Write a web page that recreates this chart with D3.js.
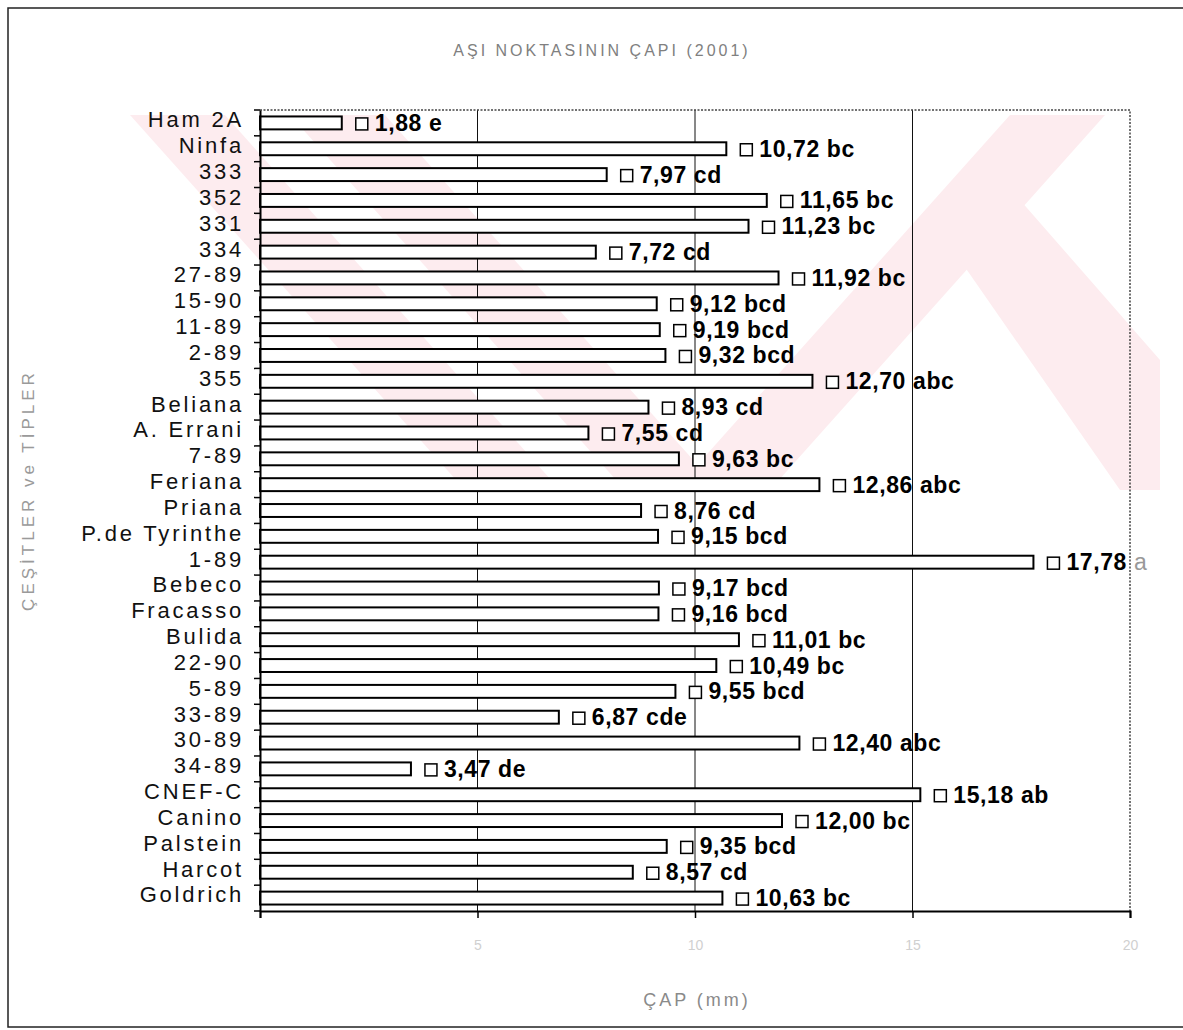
<!DOCTYPE html>
<html>
<head>
<meta charset="utf-8">
<script src="https://cdn.jsdelivr.net/npm/d3@7"></script>
<style>
  body { margin: 0; background: #fff; }
  svg { display: block; }
</style>
</head>
<body>
<div id="chart"></div>
<script>
// Data
const cultivars = ["Ham 2A", "Ninfa", "333", "352", "331", "334", "27-89", "15-90", "11-89", "2-89",
  "355", "Beliana", "A. Errani", "7-89", "Feriana", "Priana", "P.de Tyrinthe", "1-89", "Bebeco", "Fracasso",
  "Bulida", "22-90", "5-89", "33-89", "30-89", "34-89", "CNEF-C", "Canino", "Palstein", "Harcot", "Goldrich"];
const diameters = [1.88, 10.72, 7.97, 11.65, 11.23, 7.72, 11.92, 9.12, 9.19, 9.32,
  12.70, 8.93, 7.55, 9.63, 12.86, 8.76, 9.15, 17.78, 9.17, 9.16,
  11.01, 10.49, 9.55, 6.87, 12.40, 3.47, 15.18, 12.00, 9.35, 8.57, 10.63];
const groups = ["e", "bc", "cd", "bc", "bc", "cd", "bc", "bcd", "bcd", "bcd",
  "abc", "cd", "cd", "bc", "abc", "cd", "bcd", "a", "bcd", "bcd",
  "bc", "bc", "bcd", "cde", "abc", "de", "ab", "bc", "bcd", "cd", "bc"];
const xTicks = [0, 5, 10, 15, 20];

const data = cultivars.map((c, i) => ({ name: c, value: diameters[i], group: groups[i] }));

const width = 1183, height = 1030;
const margin = { top: 110, right: 53, bottom: 119, left: 260 };

const svg = d3.select("#chart")
  .append("svg")
    .attr("width", width)
    .attr("height", height);

// outer frame
svg.append("rect")
  .attr("x", 8).attr("y", 8)
  .attr("width", 1190).attr("height", 1019)
  .attr("fill", "none")
  .attr("stroke", "#222")
  .attr("stroke-width", 1.5);

// faint watermark
const wm = svg.append("g").attr("fill", "#fdecef");
const wmShapes = [
  [[130, 115], [225, 115], [560, 490], [465, 490]],
  [[290, 115], [385, 115], [720, 490], [625, 490]],
  [[1010, 115], [1105, 115], [770, 490], [675, 490]],
  [[960, 260], [1020, 200], [1160, 360], [1160, 490], [1120, 490]]
];
wm.selectAll("polygon")
  .data(wmShapes)
  .join("polygon")
  .attr("points", d => d.map(p => p.join(",")).join(" "));

const x = d3.scaleLinear()
  .domain([0, 20])
  .range([margin.left, width - margin.right]);

const y = d3.scaleBand()
  .domain(cultivars)
  .range([margin.top, height - margin.bottom])
  .paddingInner(0.5)
  .paddingOuter(0.25);

const plotTop = margin.top, plotBottom = height - margin.bottom;

// gridlines
svg.append("g")
  .selectAll("line")
  .data(xTicks.filter(t => t > 0 && t < 20))
  .join("line")
  .attr("x1", d => x(d)).attr("x2", d => x(d))
  .attr("y1", plotTop).attr("y2", plotBottom)
  .attr("stroke", "#111")
  .attr("stroke-width", 1);

// dotted plot border (top and right)
svg.append("path")
  .attr("d", `M${x(0)},${plotTop}H${x(20)}V${plotBottom}`)
  .attr("fill", "none")
  .attr("stroke", "#444")
  .attr("stroke-width", 1.5)
  .attr("stroke-dasharray", "2,1.5");

// bars
svg.append("g")
  .selectAll("rect")
  .data(data)
  .join("rect")
  .attr("x", x(0))
  .attr("y", d => y(d.name))
  .attr("width", d => x(d.value) - x(0))
  .attr("height", y.bandwidth())
  .attr("fill", "#fff")
  .attr("stroke", "#000")
  .attr("stroke-width", 2);

// value labels with small square marker
const lab = svg.append("g")
  .selectAll("g")
  .data(data)
  .join("g")
  .attr("transform", d => `translate(${x(d.value)},${y(d.name) + y.bandwidth() / 2})`);

lab.append("rect")
  .attr("x", 14).attr("y", -5)
  .attr("width", 12).attr("height", 12)
  .attr("fill", "#fff")
  .attr("stroke", "#000")
  .attr("stroke-width", 1.5);

const valText = lab.append("text")
  .attr("x", 33)
  .attr("y", 8)
  .attr("font-family", "Liberation Sans, Arial, sans-serif")
  .attr("font-weight", "bold")
  .attr("font-size", 23)
  .attr("letter-spacing", 0.6)
  .attr("fill", "#000");
valText.append("tspan")
  .text(d => d.value.toFixed(2).replace(".", ",") + " ");
valText.append("tspan")
  .attr("fill", d => x(d.value) + 110 > x(20) ? "#999" : "#000")
  .attr("font-weight", d => x(d.value) + 110 > x(20) ? "normal" : "bold")
  .text(d => d.group);

// y axis (categories)
const yAxis = d3.axisLeft(y).tickSize(0).tickPadding(16);
const yg = svg.append("g")
  .attr("transform", `translate(${x(0)},0)`)
  .call(yAxis);
yg.select(".domain").attr("stroke", "#000").attr("stroke-width", 2);
yg.selectAll("text")
  .attr("font-family", "Liberation Sans, Arial, sans-serif")
  .attr("font-size", 22)
  .attr("letter-spacing", 2.8)
  .attr("dy", "0.2em")
  .attr("fill", "#111");

// small ticks between categories
const step = y.step();
svg.append("g")
  .selectAll("line")
  .data(d3.range(cultivars.length + 1))
  .join("line")
  .attr("x1", x(0) - 6).attr("x2", x(0))
  .attr("y1", i => plotTop + y.paddingOuter() * step + i * step - (y.paddingInner() * step) / 2)
  .attr("y2", i => plotTop + y.paddingOuter() * step + i * step - (y.paddingInner() * step) / 2)
  .attr("stroke", "#000")
  .attr("stroke-width", 1.5);

// x axis
const xAxis = d3.axisBottom(x)
  .tickValues(xTicks)
  .tickSize(7)
  .tickPadding(22)
  .tickFormat(d => d === 0 ? "" : d);
const xg = svg.append("g")
  .attr("transform", `translate(0,${plotBottom})`)
  .call(xAxis);
xg.select(".domain").attr("stroke", "#000").attr("stroke-width", 2);
xg.selectAll(".tick line").attr("stroke", "#000").attr("stroke-width", 1.5);
xg.selectAll("text")
  .attr("font-family", "Liberation Sans, Arial, sans-serif")
  .attr("font-size", 14)
  .attr("fill", "#d0d0d0");

// title
svg.append("text")
  .attr("x", 602).attr("y", 56)
  .attr("text-anchor", "middle")
  .attr("font-family", "Liberation Sans, Arial, sans-serif")
  .attr("font-size", 16)
  .attr("letter-spacing", 3)
  .attr("fill", "#808080")
  .text("AŞI NOKTASININ ÇAPI (2001)");

// axis titles
svg.append("text")
  .attr("transform", "translate(34,490) rotate(-90)")
  .attr("text-anchor", "middle")
  .attr("font-family", "Liberation Sans, Arial, sans-serif")
  .attr("font-size", 17)
  .attr("letter-spacing", 4)
  .attr("fill", "#9a9a9a")
  .text("ÇEŞİTLER ve TİPLER");

svg.append("text")
  .attr("x", 697).attr("y", 1006)
  .attr("text-anchor", "middle")
  .attr("font-family", "Liberation Sans, Arial, sans-serif")
  .attr("font-size", 18)
  .attr("letter-spacing", 3)
  .attr("fill", "#8a8a8a")
  .text("ÇAP (mm)");
</script>
</body>
</html>
